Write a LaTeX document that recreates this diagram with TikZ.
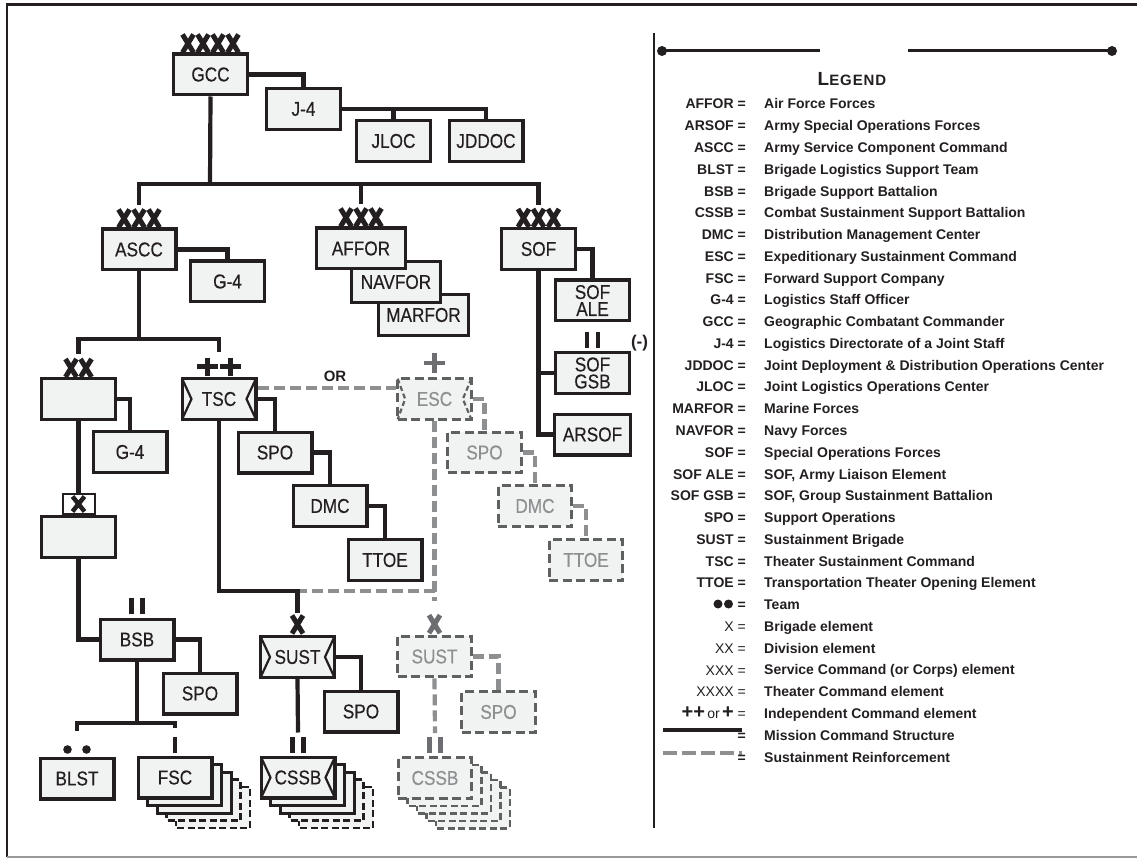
\documentclass[tikz,border=0pt]{standalone}
\usepackage{fontspec}
\setmainfont{Liberation Sans}
\newfontfamily\boxfont[FakeStretch=0.86,FakeBold=0.3]{Liberation Sans}
\usetikzlibrary{positioning,calc}
\definecolor{ink}{HTML}{231F20}
\definecolor{boxfill}{HTML}{F1F2F2}
\definecolor{dashbox}{HTML}{5F6062}
\definecolor{dashlink}{HTML}{8E8F91}
\definecolor{dashtext}{HTML}{8D8F91}
\definecolor{markgrey}{HTML}{6D6E71}
\pgfdeclarelayer{back}
\pgfsetlayers{back,main}

\tikzset{
  unit/.style={draw=ink, fill=boxfill, line width=3.3pt, minimum width=73.7pt, minimum height=40.7pt,
    inner sep=0pt, align=center, text=ink, font=\boxfont\fontsize{20}{17}\selectfont},
  dunit/.style={unit, draw=dashbox, dash pattern=on 9pt off 4.5pt, line width=3pt, text=dashtext},
  stackbox/.style={draw=ink, fill=boxfill, line width=3pt},
  link/.style={draw=ink, line width=4.2pt},
  dlink/.style={draw=dashlink, line width=4.2pt, dash pattern=on 11pt off 5pt},
  markbox/.style={inner sep=0pt, outer sep=0pt, minimum height=18pt},
  mk/.style={draw=ink, line width=4.5pt},
  notch/.style={draw=ink, line width=2.2pt},
  legabbr/.style={anchor=base east, inner sep=0pt, text=ink, font=\bfseries\fontsize{14}{16}\selectfont},
  legtext/.style={anchor=base west, inner sep=0pt, text=ink, font=\bfseries\fontsize{14}{16}\selectfont},
}
% row of X echelon marks inside a mark node
\newcommand{\xmarks}[3]{%
  \foreach \j in {1,...,#2}{
    \draw[mk, line width=5pt, draw=#3] ([shift={({(\j-1)*15+2},0)}]#1.south west) -- ++(11,-18)
      ([shift={({(\j-1)*15+2},-18)}]#1.south west) -- ++(11,18);
  }}

\begin{document}
\begin{tikzpicture}[x=1pt,y=-1pt]
\useasboundingbox (0,0) rectangle (1137,858);

%Frame
\draw[ink, line width=2.5pt] (7,857) -- (7,4.5) -- (1137,4.5);
\draw[black!40, line width=1.5pt] (7,857) -- (1137,857);

%Shape: top of the tree
\node[unit] (gcc) at (210.5,74.5) {GCC};
\node[markbox, minimum width=60pt, above=0pt of gcc] (gccmk) {};
\node[unit] (j4) at (303.5,109) {J-4};
\node[unit] (jloc) at (393.5,141) {JLOC};
\node[unit] (jddoc) at (486,141) {JDDOC};

%Shape: service components
\node[unit] (ascc) at (139,249.5) {ASCC};
\node[markbox, minimum width=45pt, above=0pt of ascc] (asccmk) {};
\node[unit] (g4a) at (227.5,281.5) {G-4};
\node[unit, minimum width=90pt] (marfor) at (423.5,315) {MARFOR};
\node[unit, minimum width=89pt] (navfor) at (396,282) {NAVFOR};
\node[unit, minimum width=89pt] (affor) at (361,248.5) {AFFOR};
\node[markbox, minimum width=45pt, above=0pt of affor] (affmk) {};
\node[unit] (sof) at (538.5,249) {SOF};
\node[markbox, minimum width=45pt, above=0pt of sof] (sofmk) {};
\node[unit] (sofale) at (592.5,300.5) {SOF\\ALE};
\node[unit] (sofgsb) at (592.5,373) {SOF\\GSB};
\node[unit, minimum width=76pt] (arsof) at (592.5,434.5) {ARSOF};
\node[inner sep=0pt, text=ink, font=\bfseries\fontsize{17}{17}\selectfont] (gsbminus) at (639.5,343) {(-)};

%Shape: division and brigade
\node[unit] (div) at (78.5,399) {};
\node[markbox, minimum width=30pt, above=0pt of div] (divmk) {};
\node[unit] (g4d) at (130,452) {G-4};
\node[unit] (bde) at (78.5,537) {};
\node[draw=ink, fill=white, line width=2pt, minimum width=32pt, minimum height=20pt, inner sep=0pt,
  above=0pt of bde] (bdemk) {};
\node[unit] (bsb) at (137,639.5) {BSB};
\node[unit] (spo3) at (200,693.5) {SPO};
\node[unit] (blst) at (77,778.5) {BLST};
\node[unit] (fsc) at (175,777.5) {FSC};

%Shape: theater sustainment
\node[unit] (tsc) at (219,399) {TSC};
\node[unit] (spo1) at (275,452.5) {SPO};
\node[unit] (dmc1) at (330,506) {DMC};
\node[unit] (ttoe1) at (385,560) {TTOE};
\node[unit] (sust1) at (297.5,657) {SUST};
\node[markbox, minimum width=15pt, above=1.5pt of sust1] (sust1mk) {};
\node[unit] (spo4) at (361,711.5) {SPO};
\node[unit] (cssb1) at (298,777.5) {CSSB};

%Shape: reinforcement (dashed)
\node[dunit] (esc) at (434.5,399) {ESC};
\node[dunit] (spo2) at (484.5,452.5) {SPO};
\node[dunit] (dmc2) at (535,506) {DMC};
\node[dunit] (ttoe2) at (586,560) {TTOE};
\node[dunit] (sust2) at (434.5,656.5) {SUST};
\node[markbox, minimum width=15pt, above=1.5pt of sust2] (sust2mk) {};
\node[dunit] (spo5) at (498.5,712) {SPO};
\node[dunit] (cssb2) at (435,778) {CSSB};
\node[inner sep=0pt, text=ink, font=\bfseries\fontsize{15}{15}\selectfont] (orlbl) at (335,376) {OR};

%Stacks behind FSC and CSSB
\begin{pgfonlayer}{back}
\foreach \k in {4,3}{
  \foreach \n in {fsc,cssb1}
    \draw[stackbox, line width=2.6pt, dash pattern=on 7pt off 3.5pt]
      ([shift={({9.5*\k+1.5},{7.5*\k+1.5})}]\n.north west) rectangle ([shift={({9.5*\k-1.5},{7.5*\k-1.5})}]\n.south east);
  \draw[stackbox, draw=dashbox, line width=2.6pt, dash pattern=on 7pt off 3.5pt]
    ([shift={({9.5*\k+1.5},{7.5*\k+1.5})}]cssb2.north west) rectangle ([shift={({9.5*\k-1.5},{7.5*\k-1.5})}]cssb2.south east);
}
\foreach \k in {2,1}{
  \foreach \n in {fsc,cssb1}
    \draw[stackbox]
      ([shift={({9.5*\k+1.5},{7.5*\k+1.5})}]\n.north west) rectangle ([shift={({9.5*\k-1.5},{7.5*\k-1.5})}]\n.south east);
  \draw[stackbox, draw=dashbox, line width=2.6pt, dash pattern=on 7pt off 3.5pt]
    ([shift={({9.5*\k+1.5},{7.5*\k+1.5})}]cssb2.north west) rectangle ([shift={({9.5*\k-1.5},{7.5*\k-1.5})}]cssb2.south east);
}
\end{pgfonlayer}

%Notches of the sustainment units
\foreach \n in {tsc,sust1,cssb1}
  \draw[notch] ([shift={(1.5,1.5)}]\n.north west) -- ([xshift=11pt]\n.west) -- ([shift={(1.5,-1.5)}]\n.south west)
    ([shift={(-1.5,1.5)}]\n.north east) -- ([xshift=-11pt]\n.east) -- ([shift={(-1.5,-1.5)}]\n.south east);
\draw[notch, draw=dashbox, dash pattern=on 5pt off 3pt] ([shift={(1.5,1.5)}]esc.north west) -- ([xshift=9pt]esc.west) -- ([shift={(1.5,-1.5)}]esc.south west)
  ([shift={(-1.5,1.5)}]esc.north east) -- ([xshift=-10pt]esc.east) -- ([shift={(-1.5,-1.5)}]esc.south east);

%Echelon marks
\xmarks{gccmk}{4}{ink}
\xmarks{asccmk}{3}{ink}
\xmarks{affmk}{3}{ink}
\xmarks{sofmk}{3}{ink}
\xmarks{divmk}{2}{ink}
\xmarks{sust1mk}{1}{ink}
\xmarks{sust2mk}{1}{markgrey}
\draw[mk, line width=4.5pt] ([shift={(-6,7.5)}]bdemk.center) -- ([shift={(6,-7.5)}]bdemk.center)
  ([shift={(-6,-7.5)}]bdemk.center) -- ([shift={(6,7.5)}]bdemk.center);
\coordinate (tscmk) at ([yshift=10.5pt]tsc.north);
\coordinate (escmk) at ([yshift=14pt]esc.north);
\coordinate (bsbmk) at ([yshift=12pt]bsb.north);
\coordinate (gsbmk) at ([yshift=11pt]sofgsb.north);
\coordinate (cssb1mk) at ([yshift=11pt]cssb1.north);
\coordinate (cssb2mk) at ([yshift=11pt]cssb2.north);
\coordinate (fscmk) at ([yshift=11pt]fsc.north);
\coordinate (blstmk) at ([yshift=7pt]blst.north);
\draw[mk] ([xshift=-22pt]tscmk) -- ([xshift=-1pt]tscmk) ([xshift=1pt]tscmk) -- ([xshift=22pt]tscmk)
  ([shift={(-11.5,-9)}]tscmk) -- ([shift={(-11.5,9)}]tscmk) ([shift={(11.5,-9)}]tscmk) -- ([shift={(11.5,9)}]tscmk);
\draw[mk, draw=markgrey] ([xshift=-10.5pt]escmk) -- ([xshift=10.5pt]escmk) ([yshift=10pt]escmk) -- ([yshift=-10pt]escmk);
\foreach \m in {bsbmk,gsbmk,cssb1mk}
  \draw[mk] ([shift={(-5.5,-8)}]\m) -- ([shift={(-5.5,8)}]\m) ([shift={(5.5,-8)}]\m) -- ([shift={(5.5,8)}]\m);
\draw[mk, draw=markgrey] ([shift={(-5.5,-8)}]cssb2mk) -- ([shift={(-5.5,8)}]cssb2mk) ([shift={(5.5,-8)}]cssb2mk) -- ([shift={(5.5,8)}]cssb2mk);
\draw[mk] ([yshift=8pt]fscmk) -- ([yshift=-8pt]fscmk);
\fill[ink] ([xshift=-9.5pt]blstmk) circle (4.3pt) ([xshift=9.5pt]blstmk) circle (4.3pt);

%Straight Lines: mission command
\coordinate (topbus) at (210,184);
\coordinate (asccbus) at (139,339);
\coordinate (bsbbus) at (137,723);
\coordinate (sustbus) at (433,591);
\draw[link] (gcc.east) -| (j4.north);
\draw[link] (j4.east) -| (jddoc.north);
\draw[link] (jloc.north) -- (jloc.north |- j4.east);
\draw[link] (gcc.south) -- (topbus);
\draw[link] ([yshift=4pt]asccmk.north) |- (topbus) -| ([yshift=4pt]sofmk.north);
\draw[link] (affmk.north |- topbus) -- ([yshift=4pt]affmk.north);
\draw[link] (ascc.east) -| (g4a.north);
\draw[link] (ascc.south) -- (asccbus);
\draw[link] ([yshift=5pt]divmk.north) |- (asccbus) -| ([yshift=15pt]tscmk);
\draw[link] (sof.east) -| (sofale.north);
\draw[link] (sof.south) |- (arsof.west);
\draw[link] (sofgsb.west) -- (sof.south |- sofgsb.west);
\draw[link] (div.east) -| (g4d.north);
\draw[link] (div.south) -- (bdemk.north);
\draw[link] (bde.south) |- (bsb.west);
\draw[link] (bsb.east) -| (spo3.north);
\draw[link] (bsb.south) -- (bsbbus);
\draw[link] ([yshift=19pt]blstmk) |- (bsbbus) -| ([yshift=17pt]fscmk);
\draw[link] (tsc.east) -| (spo1.north);
\draw[link] (spo1.east) -| (dmc1.north);
\draw[link] (dmc1.east) -| (ttoe1.north);

%Straight Lines: sustainment reinforcement
\draw[dlink] ([yshift=11pt]tsc.east) -- ([yshift=11pt]esc.west);
\draw[dlink] (esc.south) -- ([yshift=14pt]sust2mk.north);
\draw[dlink] (esc.south |- sustbus) -- (sust1mk.north |- sustbus);
\draw[dlink] (esc.east) -| (spo2.north);
\draw[dlink] (spo2.east) -| (dmc2.north);
\draw[dlink] (dmc2.east) -| (ttoe2.north);
\draw[dlink] (sust2.east) -| (spo5.north);
\draw[dlink] (sust2.south) -- ([yshift=12pt]cssb2mk);

\draw[link] (tsc.south) |- (sust1mk.north |- sustbus) -- ([yshift=3pt]sust1mk.north);
\draw[link] (sust1.east) -| (spo4.north);
\draw[link] (sust1.south) -- ([yshift=12pt]cssb1mk);

%Legend
\draw[ink, line width=2pt] (654,33) -- (654,828);
\draw[ink, line width=3pt] (662,51) -- (820,51) (908,51) -- (1112,51);
\fill[ink] (662,51) circle (5pt) (1112,51) circle (5pt);
\node[inner sep=0pt, text=ink] (legtitle) at (852,79)
  {\bfseries\addfontfeatures{LetterSpace=6}\fontsize{19}{19}\selectfont L\fontsize{15}{15}\selectfont EGEND};
\foreach \ab/\txt [count=\i] in {AFFOR/Air Force Forces, ARSOF/Army Special Operations Forces,
  ASCC/Army Service Component Command, BLST/Brigade Logistics Support Team,
  BSB/Brigade Support Battalion, CSSB/Combat Sustainment Support Battalion,
  DMC/Distribution Management Center, ESC/Expeditionary Sustainment Command,
  FSC/Forward Support Company, G-4/Logistics Staff Officer, GCC/Geographic Combatant Commander,
  J-4/Logistics Directorate of a Joint Staff, JDDOC/Joint Deployment \& Distribution Operations Center,
  JLOC/Joint Logistics Operations Center, MARFOR/Marine Forces, NAVFOR/Navy Forces,
  SOF/Special Operations Forces, SOF ALE/{SOF, Army Liaison Element},
  SOF GSB/{SOF, Group Sustainment Battalion}, SPO/Support Operations, SUST/Sustainment Brigade,
  TSC/Theater Sustainment Command, TTOE/Transportation Theater Opening Element}{
  \node[legabbr] (ab\i) at (746,{87.2+\i*21.77}) {\ab{} =};
  \node[legtext] (tx\i) at (764,{87.2+\i*21.77}) {\txt};
}
\foreach \txt [count=\i from 24] in {Team, Brigade element, Division element,
  Service Command (or Corps) element, Theater Command element, Independent Command element,
  Mission Command Structure, Sustainment Reinforcement}{
  \node[legtext] (tx\i) at (764,{87.2+\i*21.77}) {\txt};
}
\node[legabbr] (ab24) at (746,609.7) {=};
\fill[ink] (718,604) circle (4.5pt) (728.5,604) circle (4.5pt);
\node[legabbr, font=\fontsize{14}{16}\selectfont] (ab25) at (746,631.5) {X =};
\node[legabbr, font=\fontsize{14}{16}\selectfont] (ab26) at (746,653.3) {XX =};
\node[legabbr, font=\fontsize{14}{16}\selectfont] (ab27) at (746,675.0) {XXX =};
\node[legabbr, font=\fontsize{14}{16}\selectfont] (ab28) at (746,696.8) {XXXX =};
\node[legabbr, font=\fontsize{14}{16}\selectfont] (ab29) at (746,718.6)
  {{\bfseries\fontsize{20}{16}\selectfont ++}\,or\,{\bfseries\fontsize{20}{16}\selectfont +} =};
\draw[ink, line width=4.5pt] (663,730) -- (742,730);
\node[legabbr] (ab30) at (746,740.3) {=};
\draw[dashlink, line width=4pt, dash pattern=on 14pt off 5pt] (663,753) -- (742,753);
\node[legabbr] (ab31) at (746,762.1) {=};

\end{tikzpicture}
\end{document}
